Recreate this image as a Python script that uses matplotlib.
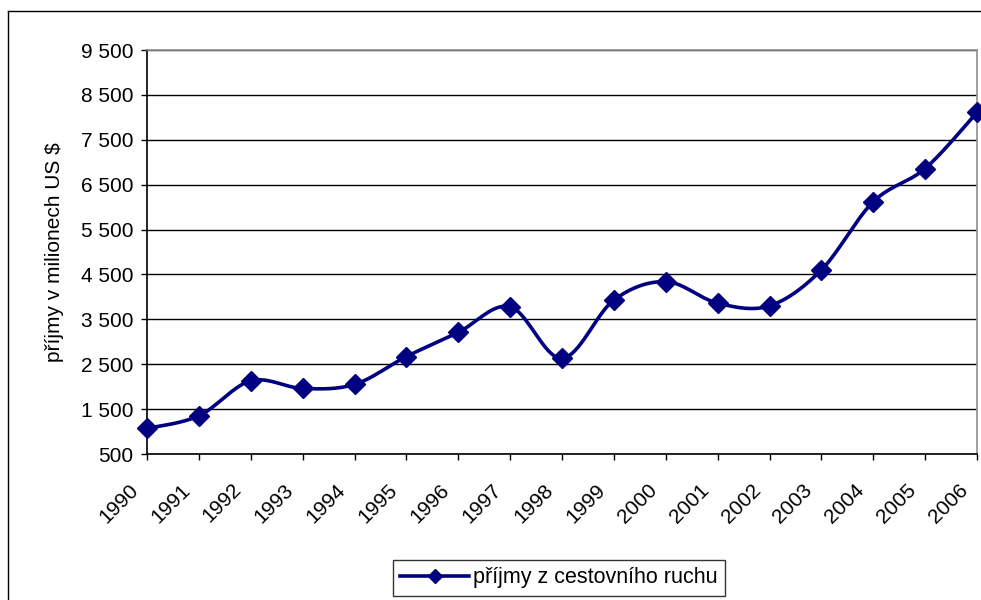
"""Příjmy z cestovního ruchu 1990-2006, Excel-style smoothed line chart."""

import matplotlib

matplotlib.use("Agg")
import matplotlib.pyplot as plt
import matplotlib.transforms as mtransforms
import numpy as np
from matplotlib.lines import Line2D
from matplotlib.ticker import FuncFormatter

plt.rcParams["font.family"] = ["Liberation Sans", "DejaVu Sans"]

# ---- Data ----
years = list(range(1990, 2007))
income = [1070, 1350, 2130, 1960, 2050, 2670, 3210, 3780, 2630, 3930,
          4340, 3860, 3800, 4600, 6120, 6860, 8110]
y_ticks = list(range(500, 9501, 1000))
series_label = "příjmy z cestovního ruchu"
y_label = "příjmy v milionech US $"

NAVY = "#000080"
FS = 15


def smooth(xs, ys, steps=20):
    """Excel-like smoothing: cubic bezier with control points from neighbours."""
    p = np.column_stack([xs, ys]).astype(float)
    p = np.vstack([p[0], p, p[-1]])
    out = []
    t = np.linspace(0, 1, steps)[:, None]
    for i in range(1, len(p) - 2):
        p0, p1, p2, p3 = p[i - 1], p[i], p[i + 1], p[i + 2]
        c1 = p1 + (p2 - p0) / 6
        c2 = p2 - (p3 - p1) / 6
        seg = ((1 - t) ** 3) * p1 + 3 * ((1 - t) ** 2) * t * c1 \
            + 3 * (1 - t) * t ** 2 * c2 + t ** 3 * p2
        out.append(seg if i == 1 else seg[1:])
    curve = np.vstack(out)
    return curve[:, 0], curve[:, 1]


fig = plt.figure(figsize=(9.81, 6.0), dpi=100)
ax = fig.add_axes([147 / 981, 1 - 454 / 600, (977 - 147) / 981, (454 - 50) / 600])

sx, sy = smooth(years, income)
ax.plot(sx, sy, color=NAVY, linewidth=2.6, solid_capstyle="round", zorder=3)
ax.plot(years, income, linestyle="none", marker="D", markersize=10,
        color=NAVY, zorder=4, clip_on=False)

ax.set_xlim(1990, 2006)
ax.set_ylim(500, 9500)
ax.set_yticks(y_ticks)
ax.yaxis.set_major_formatter(FuncFormatter(lambda v, _: f"{v:,.0f}".replace(",", " ")))
ax.set_xticks(years)
ax.set_xticklabels([str(y) for y in years], rotation=45, ha="right", va="center",
                   rotation_mode="anchor")
ax.tick_params(axis="both", labelsize=FS, length=4.5, width=1, color="black",
               direction="out")
ax.tick_params(axis="x", pad=4)
ax.tick_params(axis="y", pad=5.5)

# shift rotated year labels like Excel does (down-left of the tick)
shift = mtransforms.ScaledTranslation(-12 / 100, -21 / 100, fig.dpi_scale_trans)
for lbl in ax.get_xticklabels():
    lbl.set_transform(lbl.get_transform() + shift)

ax.grid(axis="y", color="black", linewidth=1)
ax.set_axisbelow(True)
for side in ("top", "right"):
    ax.spines[side].set_color("#909090")
    ax.spines[side].set_linewidth(1.2)
for side in ("left", "bottom"):
    ax.spines[side].set_color("black")
    ax.spines[side].set_linewidth(1.2)

ax.set_ylabel(y_label, fontsize=FS, labelpad=12)

# outer chart-area border (top and left visible)
fig.add_artist(Line2D([8 / 981, 1], [1 - 11 / 600] * 2, color="black", linewidth=1))
fig.add_artist(Line2D([8 / 981] * 2, [0, 1 - 11 / 600], color="black", linewidth=1))

handle = Line2D([], [], color=NAVY, linewidth=2.6, marker="D", markersize=7)
leg = fig.legend([handle], [series_label], loc="center",
                 bbox_to_anchor=(559 / 981, 1 - 578 / 600), fontsize=FS + 0.5,
                 frameon=True, fancybox=False, handlelength=3.2,
                 handletextpad=0.2, borderpad=0.35, borderaxespad=0)
leg.get_frame().set_edgecolor("black")
leg.get_frame().set_linewidth(1)

fig.savefig("out.png", dpi=100)
